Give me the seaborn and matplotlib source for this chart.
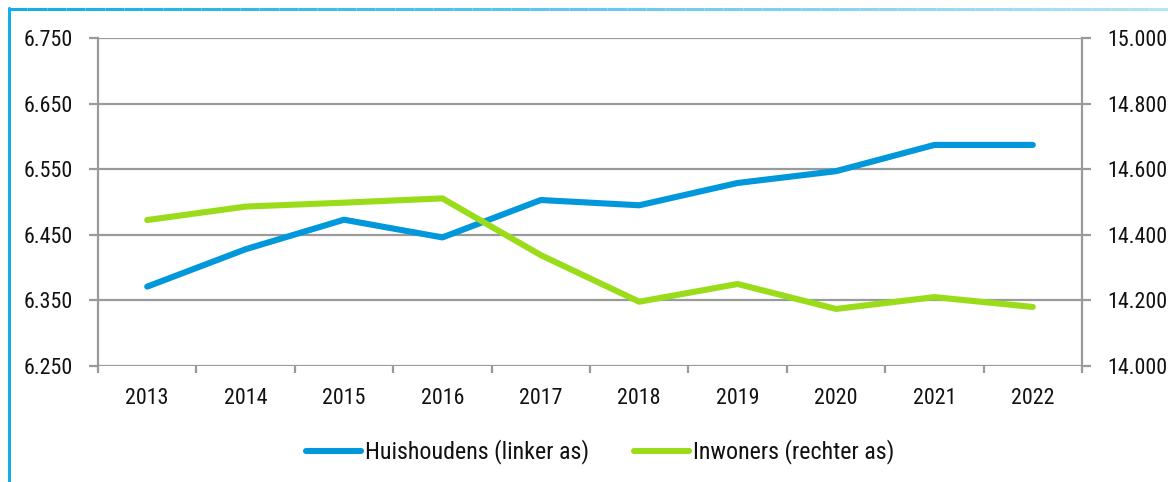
import matplotlib
matplotlib.use("Agg")
import matplotlib.pyplot as plt
from matplotlib.lines import Line2D
import numpy as np
import pandas as pd
import seaborn as sns

years = [2013, 2014, 2015, 2016, 2017, 2018, 2019, 2020, 2021, 2022]
huishoudens = [6371, 6428, 6473, 6446, 6503, 6495, 6529, 6547, 6587, 6587]
inwoners = [14445, 14486, 14498, 14511, 14338, 14196, 14250, 14174, 14210, 14180]
left_ticks = [6250, 6350, 6450, 6550, 6650, 6750]
right_ticks = [14000, 14200, 14400, 14600, 14800, 15000]
label_h = "Huishoudens (linker as)"
label_i = "Inwoners (rechter as)"

BLUE = "#0098DB"
GREEN = "#9ADC1A"
GRID = "#9a9a9a"
FS = 15.8
LFS = 17.3

sns.set_style("white")
plt.rcParams["font.family"] = ["Roboto Condensed", "Liberation Sans", "DejaVu Sans"]

df = pd.DataFrame({"jaar": years, "huishoudens": huishoudens, "inwoners": inwoners})

fig = plt.figure(figsize=(11.68, 4.82), dpi=100)
ax = fig.add_axes([98 / 1168, 1 - 366 / 482, (1082 - 98) / 1168, (366 - 38) / 482])
ax2 = ax.twinx()

sns.lineplot(data=df, x="jaar", y="huishoudens", ax=ax, color=BLUE, linewidth=4.4,
             solid_capstyle="round", solid_joinstyle="round", legend=False)
sns.lineplot(data=df, x="jaar", y="inwoners", ax=ax2, color=GREEN, linewidth=4.4,
             solid_capstyle="round", solid_joinstyle="round", legend=False)

fmt = lambda v: f"{v:,}".replace(",", ".")

ax.set_xlim(years[0] - 0.5, years[-1] + 0.5)
ax.set_ylim(left_ticks[0], left_ticks[-1])
ax2.set_ylim(right_ticks[0], right_ticks[-1])

ax.set_yticks(left_ticks)
ax.set_yticklabels([fmt(v) for v in left_ticks])
ax2.set_yticks(right_ticks)
ax2.set_yticklabels([fmt(v) for v in right_ticks])
ax.set_xticks(years)
ax.set_xticklabels([str(y) for y in years])
ax.set_xticks([y - 0.5 for y in years] + [years[-1] + 0.5], minor=True)

for a in (ax, ax2):
    a.set_xlabel("")
    a.set_ylabel("")
    for s in a.spines.values():
        s.set_visible(False)
ax.spines["left"].set_visible(True)
ax.spines["left"].set_color(GRID)
ax.spines["left"].set_linewidth(1.6)
ax2.spines["right"].set_visible(True)
ax2.spines["right"].set_color(GRID)
ax2.spines["right"].set_linewidth(1.6)

ax.yaxis.grid(True, color=GRID, linewidth=1.6)
ax.xaxis.grid(False)
ax.set_axisbelow(True)

ax.tick_params(axis="y", which="major", length=6.5, width=1.6, color=GRID, direction="out",
               labelsize=FS, pad=11.5, left=True)
ax2.tick_params(axis="y", which="major", length=6.5, width=1.6, color=GRID, direction="out",
                labelsize=FS, pad=11.5, right=True)
ax.tick_params(axis="x", which="major", length=0, labelsize=FS, pad=15.5)
ax.tick_params(axis="x", which="minor", length=5, width=1.6, color=GRID, direction="out", bottom=True)

for t in ax.get_yticklabels() + ax2.get_yticklabels() + ax.get_xticklabels():
    t.set_color("#111111")

handles = [Line2D([], [], color=BLUE, linewidth=4.4, solid_capstyle="round"),
           Line2D([], [], color=GREEN, linewidth=4.4, solid_capstyle="round")]
leg = fig.legend(handles, [label_h, label_i], loc="center", bbox_to_anchor=(600 / 1168, 1 - 452 / 482),
                 ncol=2, frameon=False, fontsize=LFS, handlelength=2.3, handletextpad=0.17,
                 columnspacing=1.85)
for t in leg.get_texts():
    t.set_color("#111111")

# frame lines (left blue border and fading top border)
fig.add_artist(Line2D([8.5 / 1168, 8.5 / 1168], [0, 1 - 8 / 482], color="#14ADE6",
                      linewidth=2.2, transform=fig.transFigure))
n = 60
xs = np.linspace(8 / 1168, 1.0, n + 1)
c0 = np.array([0x14, 0xAD, 0xE6]) / 255
c1 = np.array([0xB5, 0xE2, 0xF5]) / 255
for i in range(n):
    t = i / (n - 1)
    fig.add_artist(Line2D([xs[i], xs[i + 1]], [1 - 8.5 / 482, 1 - 8.5 / 482],
                          color=tuple(c0 * (1 - t) + c1 * t), linewidth=2.2,
                          transform=fig.transFigure, solid_capstyle="butt"))

fig.savefig("out.png", dpi=100)
